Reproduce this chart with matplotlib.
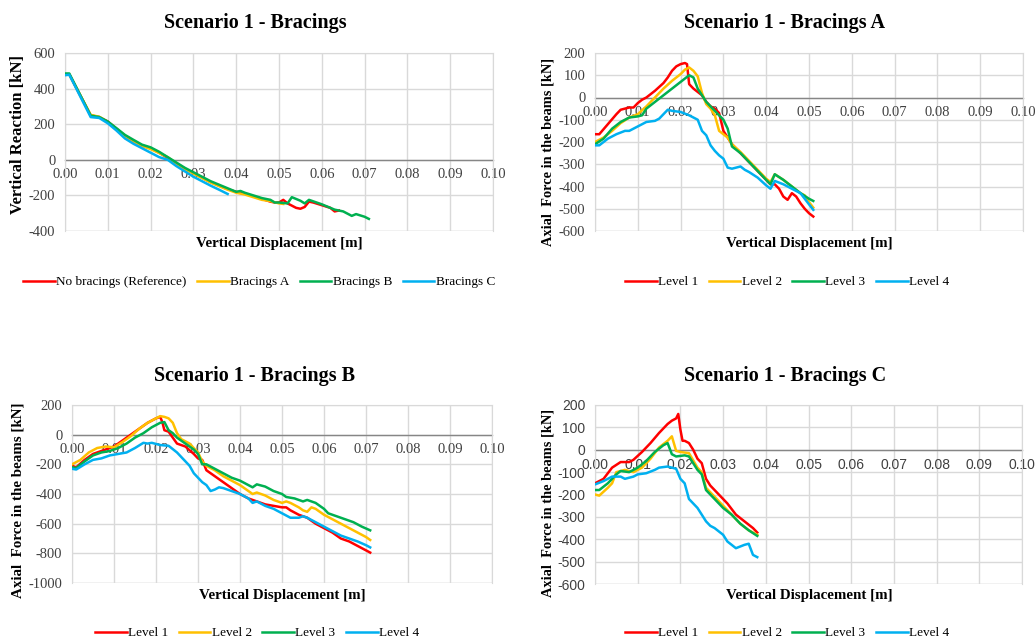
import matplotlib
matplotlib.use('Agg')
import matplotlib.pyplot as plt
import numpy as np

plt.rcParams['font.family'] = ['Liberation Serif', 'DejaVu Serif']
plt.rcParams['axes.unicode_minus'] = False

RED = '#FF0000'
ORANGE = '#FFC000'
GREEN = '#00B050'
BLUE = '#00B0F0'

# ---------------- Scenario 1 - Bracings (vertical reaction) ----------------
ref_x = [0, 0.001, 0.006, 0.008, 0.010, 0.012, 0.014, 0.016, 0.018, 0.020, 0.022, 0.024,
         0.026, 0.028, 0.030, 0.032, 0.034, 0.036, 0.038, 0.040, 0.042, 0.044, 0.046,
         0.048, 0.049, 0.050, 0.051, 0.052, 0.054, 0.055, 0.056, 0.057, 0.058, 0.060,
         0.062, 0.063, 0.064]
ref_y = [480, 480, 250, 240, 215, 175, 135, 105, 80, 65, 40, 10, -20, -50, -75, -100,
         -125, -145, -165, -180, -190, -205, -220, -235, -240, -240, -225, -245, -270,
         -275, -265, -235, -240, -255, -270, -290, -285]
bra_x = [0, 0.001, 0.006, 0.008, 0.010, 0.012, 0.014, 0.016, 0.018, 0.020, 0.022, 0.024,
         0.026, 0.028, 0.030, 0.032, 0.034, 0.036, 0.038, 0.040, 0.042, 0.044, 0.046,
         0.048, 0.050, 0.051]
bra_y = [480, 480, 252, 242, 212, 172, 135, 105, 78, 60, 38, 15, -20, -52, -78, -102,
         -128, -148, -168, -185, -195, -210, -225, -232, -245, -248]
brb_x = [0, 0.001, 0.006, 0.008, 0.010, 0.012, 0.014, 0.016, 0.018, 0.020, 0.022, 0.024,
         0.026, 0.028, 0.030, 0.032, 0.034, 0.036, 0.038, 0.040, 0.041, 0.042, 0.044,
         0.046, 0.048, 0.049, 0.050, 0.052, 0.053, 0.055, 0.056, 0.057, 0.060, 0.063,
         0.065, 0.067, 0.068, 0.070, 0.071]
brb_y = [485, 485, 248, 240, 215, 178, 140, 112, 85, 70, 45, 15, -15, -45, -70, -95,
         -120, -140, -160, -180, -175, -185, -200, -215, -225, -240, -240, -245, -210,
         -230, -245, -225, -250, -280, -290, -315, -305, -320, -332]
brc_x = [0, 0.001, 0.006, 0.008, 0.010, 0.012, 0.014, 0.016, 0.018, 0.020, 0.022, 0.024,
         0.026, 0.028, 0.030, 0.032, 0.034, 0.036, 0.038]
brc_y = [475, 478, 240, 235, 205, 165, 120, 90, 65, 40, 15, 0, -35, -65, -95, -120,
         -145, -168, -192]

# ---------------- Scenario 1 - Bracings A ----------------
a1_x = [0, 0.001, 0.003, 0.005, 0.006, 0.008, 0.009, 0.010, 0.011, 0.012, 0.014, 0.016,
        0.017, 0.018, 0.019, 0.020, 0.021, 0.0215, 0.022, 0.023, 0.024, 0.025, 0.026,
        0.027, 0.028, 0.029, 0.030, 0.031, 0.032, 0.034, 0.036, 0.038, 0.040, 0.041,
        0.042, 0.043, 0.044, 0.045, 0.046, 0.047, 0.048, 0.049, 0.050, 0.051]
a1_y = [-165, -165, -120, -75, -55, -45, -45, -25, -10, 0, 30, 65, 90, 120, 140, 150,
        155, 150, 60, 40, 25, 10, -20, -40, -50, -70, -150, -180, -210, -250, -290, -330,
        -370, -390, -390, -410, -445, -460, -430, -445, -475, -500, -520, -535]
a2_x = [0, 0.002, 0.004, 0.006, 0.008, 0.010, 0.012, 0.014, 0.016, 0.018, 0.020, 0.021,
        0.022, 0.023, 0.024, 0.025, 0.026, 0.027, 0.028, 0.029, 0.030, 0.031, 0.032,
        0.034, 0.036, 0.038, 0.040, 0.041, 0.042, 0.044, 0.046, 0.048, 0.049, 0.050, 0.051]
a2_y = [-200, -180, -150, -115, -90, -75, -40, 0, 40, 75, 105, 125, 135, 120, 95, 20,
        -30, -50, -80, -150, -165, -180, -210, -245, -285, -325, -365, -380, -345, -370,
        -400, -430, -440, -470, -495]
a3_x = [0, 0.002, 0.004, 0.006, 0.008, 0.010, 0.011, 0.012, 0.014, 0.016, 0.018, 0.020,
        0.022, 0.023, 0.024, 0.025, 0.026, 0.028, 0.030, 0.031, 0.032, 0.034, 0.036,
        0.038, 0.040, 0.041, 0.042, 0.044, 0.046, 0.048, 0.050, 0.051]
a3_y = [-210, -185, -140, -110, -90, -85, -80, -50, -20, 10, 40, 70, 100, 90, 40, 10,
        -20, -60, -100, -140, -220, -250, -290, -330, -370, -390, -345, -370, -400, -430,
        -455, -465]
a4_x = [0, 0.001, 0.003, 0.005, 0.007, 0.008, 0.010, 0.012, 0.014, 0.015, 0.017, 0.018,
        0.020, 0.022, 0.024, 0.025, 0.026, 0.027, 0.028, 0.029, 0.030, 0.031, 0.032,
        0.033, 0.034, 0.035, 0.036, 0.038, 0.040, 0.041, 0.042, 0.044, 0.046, 0.048,
        0.050, 0.051]
a4_y = [-215, -215, -185, -165, -150, -150, -130, -110, -105, -95, -55, -60, -65, -80,
        -100, -150, -170, -215, -240, -260, -275, -315, -320, -315, -310, -325, -335,
        -360, -395, -410, -375, -390, -410, -430, -480, -505]

# ---------------- Scenario 1 - Bracings B ----------------
b1_x = [0, 0.001, 0.003, 0.005, 0.007, 0.009, 0.010, 0.012, 0.014, 0.016, 0.018, 0.020,
        0.021, 0.0215, 0.022, 0.023, 0.025, 0.027, 0.029, 0.030, 0.031, 0.032, 0.034,
        0.036, 0.038, 0.040, 0.042, 0.044, 0.046, 0.048, 0.050, 0.051, 0.052, 0.054,
        0.056, 0.058, 0.060, 0.062, 0.064, 0.066, 0.068, 0.070, 0.071]
b1_y = [-210, -220, -170, -130, -110, -90, -80, -40, 0, 40, 80, 110, 120, 85, 30, 20,
        -60, -80, -130, -160, -170, -240, -280, -320, -360, -400, -430, -450, -470, -480,
        -490, -490, -510, -540, -560, -600, -630, -660, -700, -720, -750, -780, -795]
b2_x = [0, 0.002, 0.004, 0.006, 0.008, 0.010, 0.012, 0.014, 0.016, 0.018, 0.020, 0.021,
        0.022, 0.023, 0.024, 0.025, 0.026, 0.028, 0.030, 0.031, 0.032, 0.034, 0.036,
        0.038, 0.040, 0.042, 0.043, 0.044, 0.046, 0.048, 0.050, 0.051, 0.052, 0.054,
        0.055, 0.056, 0.057, 0.058, 0.060, 0.062, 0.064, 0.066, 0.068, 0.070, 0.071]
b2_y = [-200, -170, -120, -90, -80, -85, -50, -10, 40, 80, 110, 125, 120, 110, 80, 10,
        -30, -60, -120, -180, -210, -240, -280, -310, -340, -380, -400, -390, -410, -440,
        -460, -450, -460, -490, -510, -520, -490, -500, -540, -570, -600, -630, -660,
        -690, -710]
b3_x = [0, 0.001, 0.003, 0.005, 0.007, 0.009, 0.011, 0.013, 0.015, 0.017, 0.019, 0.021,
        0.022, 0.023, 0.024, 0.025, 0.027, 0.029, 0.030, 0.031, 0.032, 0.034, 0.036,
        0.038, 0.040, 0.042, 0.043, 0.044, 0.046, 0.048, 0.050, 0.051, 0.053, 0.055,
        0.056, 0.058, 0.060, 0.061, 0.063, 0.065, 0.067, 0.069, 0.071]
b3_y = [-220, -225, -180, -140, -120, -110, -90, -60, -20, 10, 50, 80, 85, 30, 10, -20,
        -60, -100, -130, -200, -200, -230, -260, -290, -310, -340, -355, -335, -350,
        -380, -400, -420, -430, -450, -440, -460, -500, -530, -550, -570, -590, -620, -645]
b4_x = [0, 0.001, 0.003, 0.005, 0.007, 0.009, 0.011, 0.013, 0.015, 0.017, 0.018, 0.019,
        0.021, 0.023, 0.025, 0.027, 0.028, 0.029, 0.030, 0.031, 0.032, 0.033, 0.034,
        0.035, 0.036, 0.038, 0.040, 0.042, 0.043, 0.044, 0.046, 0.048, 0.050, 0.052,
        0.054, 0.055, 0.056, 0.058, 0.060, 0.062, 0.064, 0.066, 0.068, 0.070, 0.071]
b4_y = [-230, -235, -200, -170, -160, -140, -130, -120, -90, -55, -60, -55, -70, -75,
        -120, -180, -210, -260, -290, -320, -340, -380, -370, -355, -360, -380, -400,
        -430, -460, -450, -480, -500, -530, -560, -560, -550, -560, -590, -620, -650,
        -680, -700, -720, -745, -760]

# ---------------- Scenario 1 - Bracings C ----------------
c1_x = [0, 0.002, 0.004, 0.006, 0.008, 0.009, 0.011, 0.013, 0.015, 0.017, 0.018, 0.019,
        0.0195, 0.020, 0.0205, 0.021, 0.022, 0.023, 0.024, 0.025, 0.026, 0.027, 0.029,
        0.031, 0.033, 0.035, 0.037, 0.038]
c1_y = [-150, -130, -80, -55, -55, -45, -10, 30, 75, 115, 130, 140, 160, 90, 40, 40, 30,
        0, -40, -60, -130, -160, -200, -240, -290, -320, -350, -370]
c2_x = [0, 0.001, 0.003, 0.004, 0.005, 0.007, 0.009, 0.011, 0.013, 0.015, 0.017, 0.018,
        0.019, 0.020, 0.022, 0.024, 0.025, 0.026, 0.028, 0.030, 0.032, 0.034, 0.036, 0.038]
c2_y = [-200, -205, -170, -150, -100, -90, -100, -80, -40, 10, 40, 60, -5, -10, -15, -80,
        -100, -170, -210, -250, -290, -330, -360, -380]
c3_x = [0, 0.001, 0.003, 0.005, 0.006, 0.008, 0.010, 0.012, 0.014, 0.016, 0.017, 0.018,
        0.019, 0.021, 0.022, 0.024, 0.025, 0.026, 0.028, 0.030, 0.032, 0.034, 0.036, 0.038]
c3_y = [-180, -180, -150, -110, -95, -100, -80, -50, -10, 20, 30, -20, -30, -25, -30,
        -90, -110, -180, -220, -260, -290, -330, -360, -385]
c4_x = [0, 0.002, 0.004, 0.006, 0.007, 0.009, 0.010, 0.012, 0.014, 0.015, 0.017, 0.019,
        0.020, 0.021, 0.022, 0.024, 0.026, 0.027, 0.028, 0.030, 0.031, 0.033, 0.035,
        0.036, 0.037, 0.038]
c4_y = [-155, -140, -120, -120, -130, -120, -110, -105, -90, -80, -75, -85, -130, -150,
        -220, -260, -320, -340, -350, -380, -410, -440, -425, -420, -470, -480]

level_names = ['Level 1', 'Level 2', 'Level 3', 'Level 4']
main_names = ['No bracings (Reference)', 'Bracings A', 'Bracings B', 'Bracings C']
colors = [RED, ORANGE, GREEN, BLUE]

W, H = 1035, 644
fig = plt.figure(figsize=(W / 100, H / 100), dpi=100)


def px_axes(x0, y0, x1, y1):
    return fig.add_axes([x0 / W, 1 - y1 / H, (x1 - x0) / W, (y1 - y0) / H])


panels = [
    dict(box=(65, 53, 493, 231), title='Scenario 1 - Bracings', tc=(255, 23),
         ylabel='Vertical Reaction [kN]', yl=(18, 134), ys=12, xl=(279, 243), lg=(259, 282),
         ylim=(-400, 600), ystep=200, names=main_names,
         series=[(ref_x, ref_y), (bra_x, bra_y), (brb_x, brb_y), (brc_x, brc_y)], sans=False),
    dict(box=(595, 53, 1023, 231), title='Scenario 1 - Bracings A', tc=(785, 23),
         ylabel='Axial  Force in the beams [kN]', yl=(548, 152), ys=10.4, xl=(809, 243),
         lg=(787, 282), ylim=(-600, 200), ystep=100, names=level_names,
         series=[(a1_x, a1_y), (a2_x, a2_y), (a3_x, a3_y), (a4_x, a4_y)], sans=False),
    dict(box=(72, 405, 492, 583), title='Scenario 1 - Bracings B', tc=(255, 376),
         ylabel='Axial  Force in the beams [kN]', yl=(18, 500), ys=10.8, xl=(282, 595),
         lg=(257, 633), ylim=(-1000, 200), ystep=200, names=level_names,
         series=[(b1_x, b1_y), (b2_x, b2_y), (b3_x, b3_y), (b4_x, b4_y)], sans=False),
    dict(box=(595, 405, 1022, 584), title='Scenario 1 - Bracings C', tc=(785, 376),
         ylabel='Axial  Force in the beams [kN]', yl=(548, 503), ys=10.4, xl=(809, 595),
         lg=(787, 633), ylim=(-600, 200), ystep=100, names=level_names,
         series=[(c1_x, c1_y), (c2_x, c2_y), (c3_x, c3_y), (c4_x, c4_y)], sans=True),
]

for p in panels:
    ax = px_axes(*p['box'])
    for (xs, ys), c, name in zip(p['series'], colors, p['names']):
        ax.plot(xs, ys, color=c, lw=1.8, label=name, zorder=3)

    ax.set_xlim(0, 0.10)
    ax.set_ylim(*p['ylim'])
    ax.set_xticks(np.arange(0, 0.101, 0.01))
    ax.set_xticklabels(['%.2f' % v for v in np.arange(0, 0.101, 0.01)])
    ax.set_yticks(np.arange(p['ylim'][0], p['ylim'][1] + 1, p['ystep']))
    ax.grid(True, color='#d9d9d9', lw=1.0, zorder=0)

    # Excel style: horizontal axis crosses at zero
    ax.spines['bottom'].set_position(('data', 0))
    ax.spines['bottom'].set_color('#868686')
    ax.spines['bottom'].set_linewidth(1.0)
    ax.spines['bottom'].set_zorder(2)
    for s in ['left', 'top', 'right']:
        ax.spines[s].set_color('#d9d9d9')
    ax.axhline(p['ylim'][0], color='#d9d9d9', lw=1.0, zorder=0)

    ax.tick_params(axis='both', length=0, labelsize=10.5, colors='#404040')
    ax.tick_params(axis='x', pad=6)
    ax.tick_params(axis='y', pad=7)
    if p['sans']:
        for lbl in ax.get_xticklabels() + ax.get_yticklabels():
            lbl.set_family(['Liberation Sans', 'DejaVu Sans'])
            lbl.set_fontsize(10)

    fig.text(p['tc'][0] / W, 1 - p['tc'][1] / H, p['title'], ha='center', va='center',
             fontsize=14.5, fontweight='bold')
    fig.text(p['yl'][0] / W, 1 - p['yl'][1] / H, p['ylabel'], ha='center', va='center',
             rotation=90, fontsize=p['ys'], fontweight='bold')
    fig.text(p['xl'][0] / W, 1 - p['xl'][1] / H, 'Vertical Displacement [m]', ha='center',
             va='center', fontsize=10.8, fontweight='bold')

    ax.legend(loc='center', bbox_to_anchor=(p['lg'][0] / W, 1 - p['lg'][1] / H),
              bbox_transform=fig.transFigure, ncol=4, frameon=False, fontsize=9.5,
              handlelength=2.4, handletextpad=0.1, columnspacing=0.8, borderpad=0)

fig.savefig('out.png', dpi=100)
